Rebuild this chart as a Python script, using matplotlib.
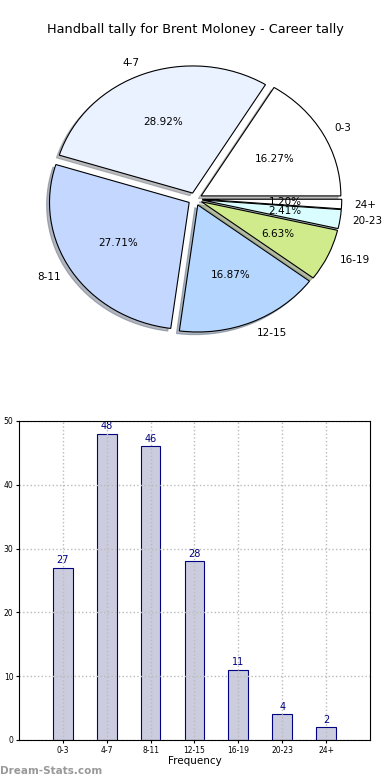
import matplotlib
matplotlib.use('Agg')
import matplotlib.pyplot as plt

# Dados
categorias = ['0-3', '4-7', '8-11', '12-15', '16-19', '20-23', '24+']
frequencias = [27, 48, 46, 28, 11, 4, 2]
cores_pie = ['#ffffff', '#eaf1ff', '#c4d7ff', '#b5d6ff', '#cfeb8c', '#dafeff', '#ffffff']
titulo = 'Handball tally for Brent Moloney - Career tally'

fig = plt.figure(figsize=(3.9, 7.8), dpi=100)

# Gráfico de pizza
ax1 = fig.add_axes([0.0167, 0.5232, 0.967, 0.4433])
ax1.pie(frequencias, labels=categorias, colors=cores_pie, autopct='%1.2f%%',
        explode=[0.05] * len(frequencias),
        shadow={'ox': -0.015, 'oy': -0.015, 'shade': 0.5},
        startangle=0, pctdistance=0.6, labeldistance=1.09,
        wedgeprops={'edgecolor': 'black', 'linewidth': 0.8},
        textprops={'fontsize': 7.5})
ax1.set_aspect('auto')
ax1.set_xlim(-1.35, 1.35)
ax1.set_ylim(-1.36, 1.36)
ax1.axis('off')
fig.text(0.5, 1 - 30 / 780, titulo, ha='center', va='center', fontsize=9.3)

# Gráfico de barras
ax2 = fig.add_axes([0.0487, 0.0513, 0.9, 0.409])
pos = range(len(categorias))
barras = ax2.bar(pos, frequencias, width=0.45, color='#ccccdf',
                 edgecolor='#000080', linewidth=0.8, zorder=2)
for b, v in zip(barras, frequencias):
    ax2.text(b.get_x() + b.get_width() / 2, v + 0.4, str(v), ha='center',
             va='bottom', color='#000080', fontsize=7)
ax2.set_xlim(-1, 7)
ax2.set_ylim(0, 50)
ax2.set_xticks(list(pos))
ax2.set_xticklabels(categorias, fontsize=5.5)
ax2.set_yticks(range(0, 51, 10))
ax2.tick_params(axis='y', labelsize=5.5, length=2, pad=2)
ax2.tick_params(axis='x', length=2, pad=2)
ax2.grid(True, linestyle=':', color='#bbbbbb', linewidth=1, zorder=3)
ax2.set_axisbelow(False)
for sp in ax2.spines.values():
    sp.set_zorder(4)
ax2.set_xlabel('Frequency', fontsize=7.5, labelpad=1)

fig.text(0.0, 1 - 771 / 780, 'Dream-Stats.com', ha='left', va='center',
         fontsize=7.5, color='#999999', fontweight='bold')

plt.savefig('out.png', dpi=100)
plt.close()
